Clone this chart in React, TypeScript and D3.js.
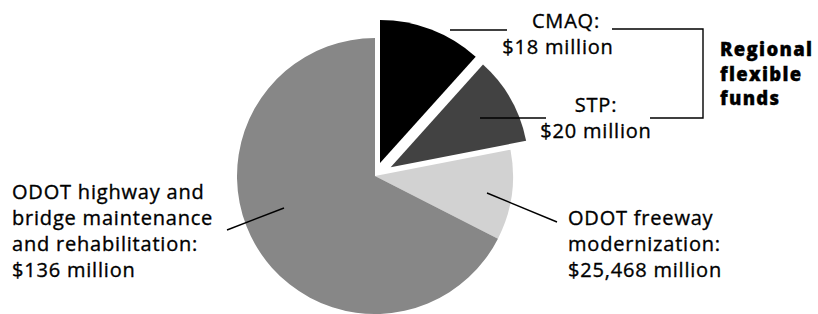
import React from 'react';
import * as d3 from 'd3';

// slices, clockwise from 12 o'clock
const categories = ['CMAQ', 'STP', 'ODOT freeway modernization', 'ODOT highway and bridge maintenance and rehabilitation'];
const amounts = ['$18 million', '$20 million', '$25,468 million', '$136 million'];
// slice sizes as drawn in the figure (degrees of the circle)
const sliceShares = [42, 37, 38, 243];
const labelLines = [
  ['CMAQ:', amounts[0]],
  ['STP:', amounts[1]],
  ['ODOT freeway', 'modernization:', amounts[2]],
  ['ODOT highway and', 'bridge maintenance', 'and rehabilitation:', amounts[3]],
];
const groupLines = ['Regional', 'flexible', 'funds'];

const W = 818;
const H = 314;
const cx = 375;
const cy = 176;
const R = 138;

const fills = ['#000000', '#424242', '#d2d2d2', '#878787'];
const explode = [14, 18, 0, 0];
const radii = [143, R, R, R];

// text blocks: x, first baseline, anchor
const labelPos = [
  { x: 566, y: 28, anchor: 'middle', dx: [0, -8] },
  { x: 596, y: 112, anchor: 'middle', dx: [0, 0] },
  { x: 568, y: 225, anchor: 'start', dx: [0, 0, 0] },
  { x: 12, y: 199, anchor: 'start', dx: [0, 0, 0, 0] },
];

const font = "'Open Sans', 'DejaVu Sans', sans-serif";

export default function App() {
  const pie = d3
    .pie<number>()
    .sort(null)
    .value((d) => d)
    .startAngle(0)
    .endAngle(2 * Math.PI);
  const arcs = pie(sliceShares);

  return (
    <svg width={W} height={H} style={{ position: 'absolute', left: 0, top: 0, background: '#fff' }}>
      {/* slices */}
      <g>
        {arcs.map((a, i) => {
          const mid = (a.startAngle + a.endAngle) / 2;
          const ox = Math.sin(mid) * explode[i];
          const oy = -Math.cos(mid) * explode[i];
          const path = d3.arc()({
            innerRadius: 0,
            outerRadius: radii[i],
            startAngle: a.startAngle,
            endAngle: a.endAngle,
          });
          return (
            <path
              key={categories[i]}
              d={path || ''}
              transform={`translate(${cx + ox},${cy + oy})`}
              fill={fills[i]}
            />
          );
        })}
      </g>

      {/* leader lines and bracket */}
      <g stroke="#000" strokeWidth={1.4} fill="none">
        <line x1={450} y1={30} x2={507} y2={30} />
        <line x1={480} y1={118} x2={546} y2={118} />
        <polyline points="612,29 703,29 703,118 650,118" />
        <line x1={487} y1={193} x2={557} y2={222} />
        <line x1={284} y1={208} x2={227} y2={230} />
      </g>

      {/* labels */}
      <g fontFamily={font} fontSize={20} letterSpacing={0.8} fill="#000" stroke="#000" strokeWidth={0.35}>
        {labelLines.map((lines, i) =>
          lines.map((l, j) => (
            <text
              key={`${i}-${j}`}
              textAnchor={labelPos[i].anchor}
              x={labelPos[i].x + labelPos[i].dx[j]}
              y={labelPos[i].y + j * 26}
            >
              {l}
            </text>
          )),
        )}
      </g>

      <g fontFamily={font} fontSize={18.5} fontWeight={800} letterSpacing={1.3} fill="#000" stroke="#000" strokeWidth={0.35}>
        {groupLines.map((l, j) => (
          <text key={l} x={720} y={56 + j * 24.5}>
            {l}
          </text>
        ))}
      </g>
    </svg>
  );
}
